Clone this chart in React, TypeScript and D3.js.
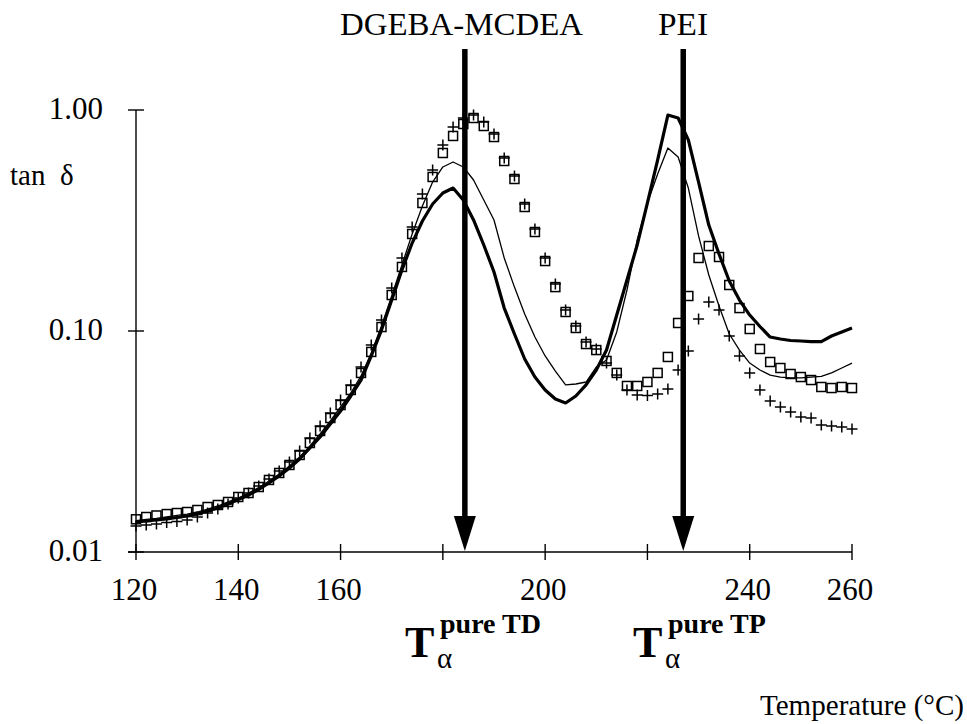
import React from "react";
import * as d3 from "d3";

const temps = [120,122,124,126,128,130,132,134,136,138,140,142,144,146,148,150,152,154,156,158,160,162,164,166,168,170,172,174,176,178,180,182,184,186,188,190,192,194,196,198,200,202,204,206,208,210,212,214,216,218,220,222,224,226,228,230,232,234,236,238,240,242,244,246,248,250,252,254,256,258,260];

const thickLine = [0.01367,0.01381,0.01396,0.01411,0.01432,0.01455,0.01485,0.01533,0.01582,0.01649,0.01728,0.01811,0.01918,0.02052,0.02208,0.02399,0.02635,0.02955,0.03314,0.03795,0.04345,0.0508,0.06,0.0771,0.101,0.138,0.189,0.25,0.3146,0.3755,0.421,0.4436,0.3916,0.318,0.245,0.185,0.127,0.0969,0.0747,0.0619,0.0541,0.04924,0.04723,0.0508,0.057,0.0666,0.082,0.1181,0.17,0.245,0.3795,0.594,0.949,0.92,0.732,0.472,0.3017,0.223,0.1684,0.138,0.1181,0.1048,0.0939,0.092,0.0906,0.0901,0.0896,0.0896,0.0949,0.099,0.1032];

const thinLine = [0.01388,0.01403,0.01418,0.0144,0.01463,0.01485,0.01517,0.01565,0.01615,0.01684,0.01755,0.01849,0.01958,0.02096,0.02254,0.0245,0.02691,0.03017,0.03419,0.03915,0.0453,0.05243,0.0626,0.0795,0.1053,0.144,0.199,0.2748,0.3678,0.472,0.5523,0.5818,0.5523,0.4823,0.3916,0.318,0.214,0.158,0.1194,0.0939,0.0771,0.0659,0.057,0.05757,0.05878,0.0687,0.0739,0.099,0.1533,0.258,0.3795,0.5133,0.673,0.6128,0.4436,0.2692,0.1792,0.1297,0.0969,0.082,0.0716,0.0666,0.0632,0.0619,0.0613,0.0613,0.0619,0.0623,0.0646,0.068,0.0716];

const squares = [0.01406,0.0144,0.01463,0.01485,0.01501,0.01517,0.01549,0.01598,0.01632,0.01684,0.01774,0.01849,0.01968,0.02118,0.02278,0.02476,0.02748,0.03113,0.03528,0.0404,0.04625,0.0541,0.0646,0.0804,0.1042,0.1455,0.1949,0.2748,0.3795,0.4977,0.6389,0.763,0.8643,0.92,0.8464,0.7546,0.5878,0.4873,0.364,0.2805,0.2073,0.158,0.1219,0.1032,0.0873,0.082,0.0732,0.0646,0.0564,0.0564,0.0588,0.0646,0.0763,0.1087,0.144,0.214,0.2424,0.2162,0.1615,0.127,0.1021,0.0829,0.0724,0.068,0.0639,0.0619,0.06,0.0558,0.0552,0.0558,0.0552];

const pluses = [0.01311,0.01325,0.01339,0.0136,0.01374,0.01396,0.0144,0.01501,0.01565,0.01649,0.01755,0.01849,0.01989,0.0214,0.02325,0.02554,0.02864,0.0328,0.03717,0.04256,0.04873,0.057,0.0687,0.0864,0.1122,0.1565,0.214,0.2955,0.4169,0.5353,0.694,0.8377,0.92,0.949,0.8826,0.7786,0.6065,0.5028,0.3755,0.2893,0.214,0.1632,0.1245,0.1053,0.0892,0.0829,0.0716,0.0632,0.0541,0.0513,0.0511,0.0519,0.0547,0.0666,0.0812,0.1133,0.1353,0.1245,0.0949,0.0771,0.0646,0.0541,0.0482,0.0453,0.043,0.0408,0.0404,0.03755,0.03717,0.03679,0.03604];

const xTicks = [120,140,160,180,200,220,240,260];
const xTickLabels = ["120","140","160","","200","","240","260"];
const yTicks = [0.01,0.1,1];
const yTickLabels = ["0.01","0.10","1.00"];
const arrowTemps = [184.3, 227.0];
const arrowLabels = ["DGEBA-MCDEA", "PEI"];

const FONT = '"Liberation Serif"';

export default function App() {
  const x = d3.scaleLinear().domain([120, 260]).range([136, 852]);
  const y = d3.scaleLog().domain([0.01, 1]).range([552, 110]);
  const line = d3.line<number>().x((_, i) => x(temps[i])).y((v) => y(v));

  const arrowTop = 49;
  const headTop = 516;
  const axisY = y(0.01);
  const txt = (size: number, bold = false): React.CSSProperties => ({
    fontFamily: FONT,
    fontSize: size + "px",
    fontWeight: bold ? 700 : 400,
  });

  return (
    <svg width={967} height={724} style={{ position: "absolute", left: 0, top: 0, background: "#fff" }}>
      <rect width={967} height={724} fill="#fff" />
      {/* axes */}
      <line x1={x(120)} x2={x(120)} y1={y(1)} y2={y(0.01)} stroke="#000" strokeWidth={1.4} />
      <line x1={x(120) - 8} x2={x(260)} y1={axisY} y2={axisY} stroke="#000" strokeWidth={1.4} />
      {yTicks.map((t, i) => (
        <g key={"yt" + i}>
          <line x1={x(120) - 8} x2={x(120) + 8} y1={y(t)} y2={y(t)} stroke="#000" strokeWidth={1.4} />
          <text x={103} y={y(t) + 9} textAnchor="end" style={txt(31)}>{yTickLabels[i]}</text>
        </g>
      ))}
      {xTicks.map((t, i) => (
        <g key={"xt" + i}>
          <line x1={x(t)} x2={x(t)} y1={axisY - 8} y2={axisY + 8} stroke="#000" strokeWidth={1.4} />
          {xTickLabels[i] && (
            <text x={x(t) - 2} y={600} textAnchor="middle" style={txt(31)}>{xTickLabels[i]}</text>
          )}
        </g>
      ))}
      <text x={10} y={185} style={txt(29)}>tan</text>
      <text x={60} y={185} style={txt(29)}>δ</text>
      <text x={964} y={715} textAnchor="end" style={txt(29)} textLength={204} lengthAdjust="spacingAndGlyphs">Temperature (°C)</text>

      {/* curves */}
      <path d={line(thinLine) || ""} fill="none" stroke="#000" strokeWidth={1.3} strokeLinejoin="round" />
      <path d={line(thickLine) || ""} fill="none" stroke="#000" strokeWidth={3.2} strokeLinejoin="round" />
      {squares.map((v, i) => (
        <rect key={"s" + i} x={x(temps[i]) - 4.5} y={y(v) - 4.5} width={9} height={9} fill="none" stroke="#000" strokeWidth={1.5} />
      ))}
      {pluses.map((v, i) => (
        <path key={"p" + i} d={`M${x(temps[i]) - 5.5},${y(v)}h11M${x(temps[i])},${y(v) - 5.5}v11`} stroke="#000" strokeWidth={1.5} fill="none" />
      ))}

      {/* arrows */}
      {arrowTemps.map((t, i) => (
        <g key={"a" + i}>
          <line x1={x(t)} x2={x(t)} y1={arrowTop} y2={headTop + 2} stroke="#000" strokeWidth={5.5} />
          <path d={`M${x(t) - 11},${headTop}L${x(t) + 11},${headTop}L${x(t)},${axisY - 1}Z`} fill="#000" />
        </g>
      ))}
      <text x={340} y={35} style={txt(31)} textLength={243} lengthAdjust="spacingAndGlyphs">{arrowLabels[0]}</text>
      <text x={658} y={35} style={txt(31)} textLength={50} lengthAdjust="spacingAndGlyphs">{arrowLabels[1]}</text>

      {/* T alpha labels */}
      <text x={405} y={657} style={txt(44, true)}>T</text>
      <text x={440} y={633} style={txt(28, true)}>pure TD</text>
      <text x={437} y={668} style={txt(29)}>α</text>
      <text x={633} y={657} style={txt(44, true)}>T</text>
      <text x={668} y={633} style={txt(28, true)}>pure TP</text>
      <text x={665} y={668} style={txt(29)}>α</text>
    </svg>
  );
}
